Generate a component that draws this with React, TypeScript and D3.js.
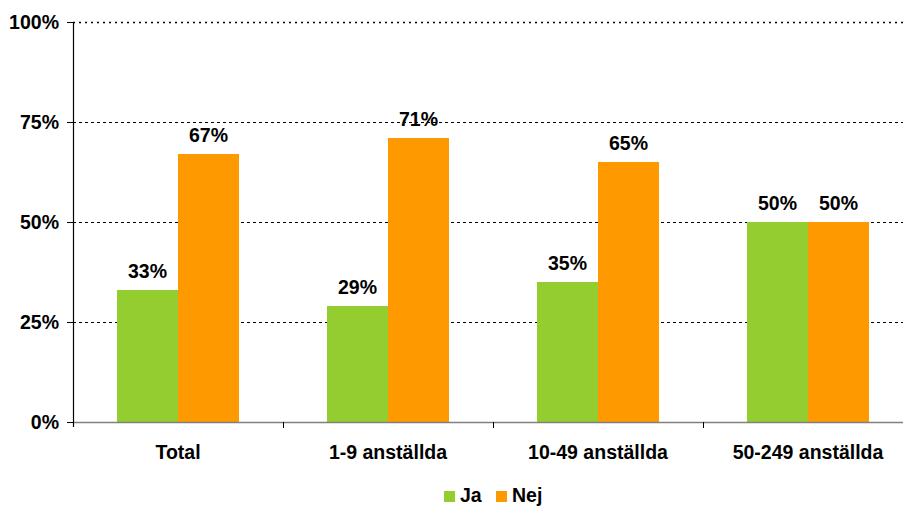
import React from "react";
import * as d3 from "d3";

const categories = ["Total", "1-9 anställda", "10-49 anställda", "50-249 anställda"];
const seriesNames = ["Ja", "Nej"];
const jaValues = [33, 29, 35, 50];
const nejValues = [67, 71, 65, 50];
const yTicks = [0, 25, 50, 75, 100];
const colors = ["#93CD2F", "#FF9900"];

const W = 903;
const H = 506;
const FONT = "'Liberation Sans', Arial, sans-serif";
const FS = 19.5;

export default function App() {
  if (typeof document !== "undefined") document.body.style.margin = "0";
  const left = 73;
  const top = 22;
  const bottom = 422;
  const x = d3.scaleBand<string>().domain(categories).range([left, left + 210 * categories.length]).paddingInner(0).paddingOuter(0);
  const y = d3.scaleLinear().domain([0, 100]).range([bottom, top]);
  const inner = d3.scaleBand<string>().domain(seriesNames).range([44, 166]);
  const series = [jaValues, nejValues];

  return (
    <svg width={W} height={H} style={{ position: "absolute", left: 0, top: 0, background: "#fff" }}>
      {yTicks.filter((t) => t > 0).map((t) => (
        <line key={t} x1={left} x2={W} y1={y(t) + 0.5} y2={y(t) + 0.5} stroke="#000" strokeWidth={t === 100 ? 1.5 : 1}
          strokeDasharray={t === 100 ? "2,4" : "3,3"} />
      ))}
      {categories.map((c, ci) =>
        series.map((vals, si) => (
          <rect key={c + si} x={(x(c) as number) + (inner(seriesNames[si]) as number)} y={y(vals[ci])}
            width={inner.bandwidth()} height={bottom - y(vals[ci])} fill={colors[si]} />
        ))
      )}
      {categories.map((c, ci) =>
        series.map((vals, si) => (
          <text key={"l" + c + si} x={(x(c) as number) + (inner(seriesNames[si]) as number) + inner.bandwidth() / 2}
            y={y(vals[ci]) - 12} textAnchor="middle" fontFamily={FONT} fontWeight="bold" fontSize={FS} fill="#000">
            {vals[ci]}%
          </text>
        ))
      )}
      <line x1={left} x2={W} y1={bottom + 0.5} y2={bottom + 0.5} stroke="#808080" strokeWidth={1.5} />
      {categories.slice(1).map((c) => (
        <line key={"t" + c} x1={(x(c) as number) + 0.5} x2={(x(c) as number) + 0.5} y1={bottom} y2={bottom + 6} stroke="#000" strokeWidth={1} />
      ))}
      <line x1={left + 0.5} x2={left + 0.5} y1={top} y2={bottom + 5} stroke="#000" strokeWidth={1.2} />
      {yTicks.map((t) => (
        <g key={"y" + t}>
          <line x1={left - 6} x2={left} y1={y(t) + 0.5} y2={y(t) + 0.5} stroke="#000" strokeWidth={1} />
          <text x={left - 14} y={y(t)} dy="0.36em" textAnchor="end" fontFamily={FONT} fontWeight="bold" fontSize={FS} fill="#000">
            {t}%
          </text>
        </g>
      ))}
      {categories.map((c) => (
        <text key={"x" + c} x={(x(c) as number) + x.bandwidth() / 2} y={459} textAnchor="middle" fontFamily={FONT}
          fontWeight="bold" fontSize={FS} fill="#000">
          {c}
        </text>
      ))}
      {seriesNames.map((s, i) => (
        <g key={"lg" + s} transform={`translate(${444 + i * 52},491)`}>
          <rect x={0} y={0} width={11} height={11} fill={colors[i]} />
          <text x={16} y={11} fontFamily={FONT} fontWeight="bold" fontSize={FS} fill="#000">{s}</text>
        </g>
      ))}
    </svg>
  );
}
